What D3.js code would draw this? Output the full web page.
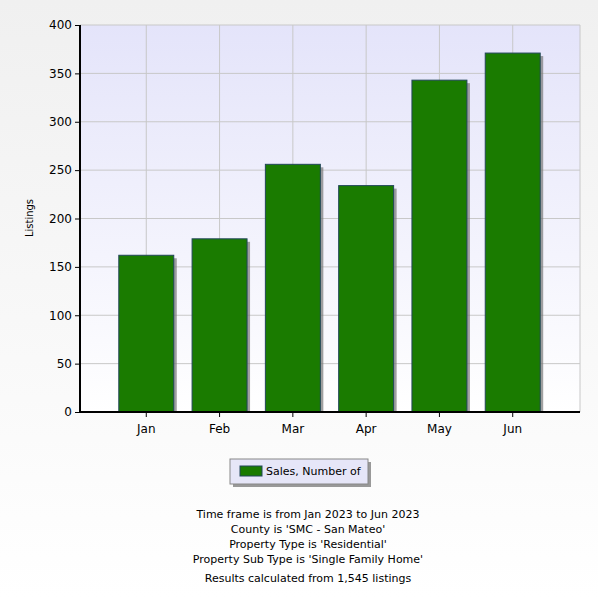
<!DOCTYPE html><html><head><meta charset="utf-8"><script src="https://cdn.jsdelivr.net/npm/d3@7"></script>
<style>body{margin:0;background:#fff}svg{font-family:Verdana,"DejaVu Sans",sans-serif}</style></head><body><svg width="598" height="598"></svg>
<script>
const months=["Jan","Feb","Mar","Apr","May","Jun"];
const sales=[162,179,256,234,343,371];
const yTicks=[0,50,100,150,200,250,300,350,400];
const notes=["Time frame is from Jan 2023 to Jun 2023","County is 'SMC - San Mateo'","Property Type is 'Residential'","Property Sub Type is 'Single Family Home'"];
const svg=d3.select("svg");
const defs=svg.append("defs");
const bg=defs.append("linearGradient").attr("id","bg").attr("x1",0).attr("y1",0).attr("x2",0).attr("y2",1);
bg.append("stop").attr("offset",0).attr("stop-color","#f0f0f0");bg.append("stop").attr("offset",1).attr("stop-color","#ffffff");
const pg=defs.append("linearGradient").attr("id","pg").attr("x1",0).attr("y1",0).attr("x2",0).attr("y2",1);
pg.append("stop").attr("offset",0).attr("stop-color","#e4e4fa");pg.append("stop").attr("offset",1).attr("stop-color","#ffffff");
svg.append("rect").attr("width",598).attr("height",598).attr("fill","url(#bg)");
const L=80,R=580,T=25,B=412;
const y=d3.scaleLinear().domain([0,400]).range([B,T]);
const x=d3.scaleBand().domain(months).range([110,549]).paddingInner(0.25).paddingOuter(0.12);
svg.append("rect").attr("x",L).attr("y",T).attr("width",R-L).attr("height",B-T).attr("fill","url(#pg)");
const g=svg.append("g");
g.selectAll(".hg").data(yTicks).join("line").attr("x1",L).attr("x2",R).attr("y1",d=>y(d)).attr("y2",d=>y(d)).attr("stroke","#c8c8c8");
g.selectAll(".vg").data(months).join("line").attr("y1",T).attr("y2",B).attr("x1",d=>x(d)+x.bandwidth()/2).attr("x2",d=>x(d)+x.bandwidth()/2).attr("stroke","#c8c8c8");
svg.append("line").attr("x1",R).attr("x2",R).attr("y1",T).attr("y2",B).attr("stroke","#c8c8c8");
svg.selectAll(".sh").data(sales).join("rect").attr("x",(d,i)=>x(months[i])+3).attr("y",d=>y(d)+3).attr("width",x.bandwidth()).attr("height",d=>B-y(d)-3).attr("fill","#777").attr("opacity",0.7);
svg.selectAll(".bar").data(sales).join("rect").attr("x",(d,i)=>x(months[i])).attr("y",d=>y(d)).attr("width",x.bandwidth()).attr("height",d=>B-y(d)).attr("fill","#1a7b00").attr("stroke","#22465a").attr("stroke-width",1);
const ya=svg.append("g").attr("transform",`translate(${L},0)`).call(d3.axisLeft(y).tickValues(yTicks).tickSize(5).tickSizeOuter(0));
const xa=svg.append("g").attr("transform",`translate(0,${B})`).call(d3.axisBottom(x).tickSize(5).tickSizeOuter(0));
[ya,xa].forEach(a=>{a.select(".domain").attr("stroke","#000").attr("stroke-width",2);a.selectAll("line").attr("stroke","#000");a.selectAll("text").attr("font-size",12).attr("fill","#000").attr("font-family","Verdana,'DejaVu Sans',sans-serif");});
xa.select(".domain").attr("d",`M${L},0H${R}`);
ya.select(".domain").attr("d",`M0,${T}V${B}`);
xa.selectAll("text").attr("dy","1.1em");
svg.append("text").attr("transform","translate(33,218) rotate(-90)").attr("text-anchor","middle").attr("font-size",10).text("Listings");
const lg=svg.append("g").attr("transform","translate(230,459)");
lg.append("rect").attr("x",3).attr("y",3).attr("width",138).attr("height",25).attr("fill","#999");
lg.append("rect").attr("width",138).attr("height",25).attr("fill","#e6e6f8").attr("stroke","#888");
lg.append("rect").attr("x",10).attr("y",7).attr("width",22).attr("height",10).attr("fill","#1a7b00").attr("stroke","#22465a");
lg.append("text").attr("x",36).attr("y",16).attr("font-size",11).text("Sales, Number of");
svg.selectAll(".note").data(notes).join("text").attr("x",308).attr("y",(d,i)=>518+i*15).attr("text-anchor","middle").attr("font-size",11).text(d=>d);
svg.append("text").attr("x",308).attr("y",582).attr("text-anchor","middle").attr("font-size",11).text("Results calculated from 1,545 listings");
</script></body></html>
